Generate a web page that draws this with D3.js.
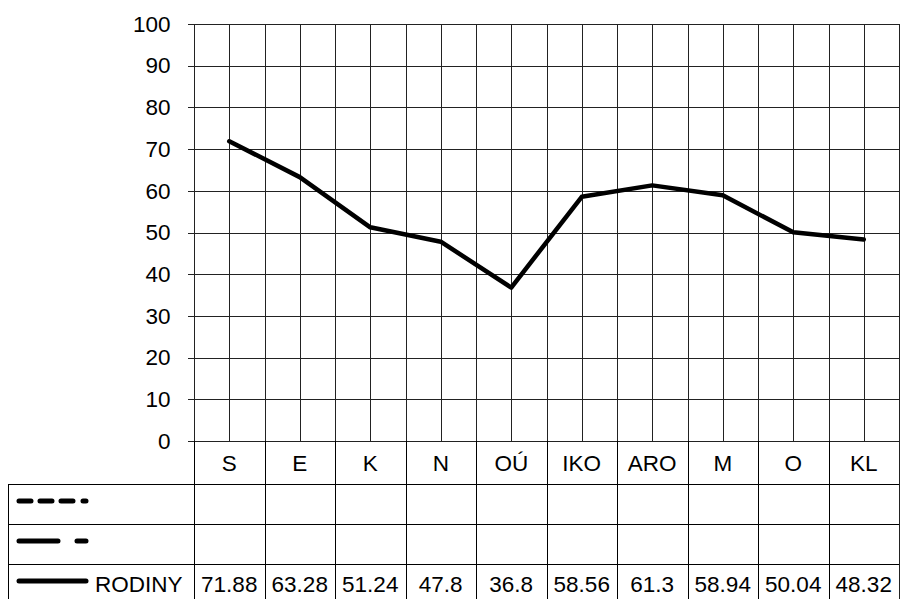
<!DOCTYPE html>
<html><head><meta charset="utf-8">
<script src="https://cdn.jsdelivr.net/npm/d3@7/dist/d3.min.js"></script>
<style>body{margin:0;background:#fff}svg{display:block}text{font-family:"Liberation Sans",Arial,sans-serif;fill:#000}</style>
</head><body>
<script>
const categories = ["S","E","K","N","OÚ","IKO","ARO","M","O","KL"];
const seriesName = "RODINY";
const values = [71.88,63.28,51.24,47.8,36.8,58.56,61.3,58.94,50.04,48.32];
const valueLabels = ["71.88","63.28","51.24","47.8","36.8","58.56","61.3","58.94","50.04","48.32"];
const yTicks = [0,10,20,30,40,50,60,70,80,90,100];

const W = 900, H = 599;
const pLeft = 194, pRight = 899, pTop = 24, pBottom = 441;
const tableLeft = 8;
const rowH = 40;
const catRowBottom = 484;
const fs = 22.5;

const svg = d3.select("body").append("svg").attr("width", W).attr("height", H);
const x = d3.scaleBand().domain(categories).range([pLeft, pRight]);
const y = d3.scaleLinear().domain([0,100]).range([pBottom, pTop]);
const cx = c => x(c) + x.bandwidth()/2;
const px = v => Math.round(v) + 0.5;

const grid = svg.append("g").attr("stroke", "#222").attr("stroke-width", 1).attr("shape-rendering","crispEdges");
yTicks.forEach(t => grid.append("line").attr("x1", pLeft).attr("x2", pRight).attr("y1", px(y(t))).attr("y2", px(y(t))));
categories.forEach(c => {
  grid.append("line").attr("x1", px(x(c))).attr("x2", px(x(c))).attr("y1", pTop).attr("y2", pBottom);
  grid.append("line").attr("x1", px(cx(c))).attr("x2", px(cx(c))).attr("y1", pTop).attr("y2", pBottom);
});
grid.append("line").attr("x1", px(pRight)).attr("x2", px(pRight)).attr("y1", pTop).attr("y2", H);

const yAxis = d3.axisLeft(y).tickValues(yTicks).tickSize(7).tickPadding(17);
const ya = svg.append("g").attr("transform", `translate(${px(pLeft)},0)`).call(yAxis);
ya.select(".domain").remove();
ya.selectAll(".tick line").attr("stroke","#222").attr("shape-rendering","crispEdges");
ya.selectAll(".tick text").attr("font-size", fs).attr("font-family","Liberation Sans, Arial, sans-serif").attr("fill","#000");

const tb = svg.append("g").attr("stroke","#000").attr("stroke-width",1).attr("shape-rendering","crispEdges");
categories.forEach((c,i) => tb.append("line").attr("x1", px(x(c))).attr("x2", px(x(c))).attr("y1", i===0 ? pBottom : pBottom).attr("y2", H).attr("stroke-width", 1.5));
[catRowBottom, catRowBottom+rowH, catRowBottom+2*rowH].forEach(yy =>
  tb.append("line").attr("x1", tableLeft).attr("x2", pRight).attr("y1", px(yy)).attr("y2", px(yy)));
tb.append("line").attr("x1", px(tableLeft)).attr("x2", px(tableLeft)).attr("y1", catRowBottom).attr("y2", H);

svg.append("g").selectAll("text").data(categories).join("text")
  .attr("x", d => cx(d)).attr("y", 471).attr("text-anchor","middle").attr("font-size", fs).text(d => d);

svg.append("g").selectAll("text").data(valueLabels).join("text")
  .attr("x", (d,i) => cx(categories[i])).attr("y", 592).attr("text-anchor","middle").attr("font-size", fs).text(d => d);

const lg = svg.append("g").attr("stroke","#000").attr("stroke-width",5).attr("stroke-linecap","round").attr("fill","none");
lg.append("line").attr("x1",19).attr("x2",86).attr("y1",501).attr("y2",501).attr("stroke-dasharray","12,9,12,9,12,10,3,100");
lg.append("line").attr("x1",19).attr("x2",86).attr("y1",541).attr("y2",541).attr("stroke-dasharray","39,19,9,100");
lg.append("line").attr("x1",19).attr("x2",86).attr("y1",581).attr("y2",581);
svg.append("text").attr("x",95).attr("y",592).attr("font-size",fs).text(seriesName);

const line = d3.line().x((d,i) => cx(categories[i])).y(d => y(d));
svg.append("path").datum(values).attr("d", line).attr("fill","none").attr("stroke","#000").attr("stroke-width",4.5).attr("stroke-linejoin","round").attr("stroke-linecap","round");
</script>
</body></html>
